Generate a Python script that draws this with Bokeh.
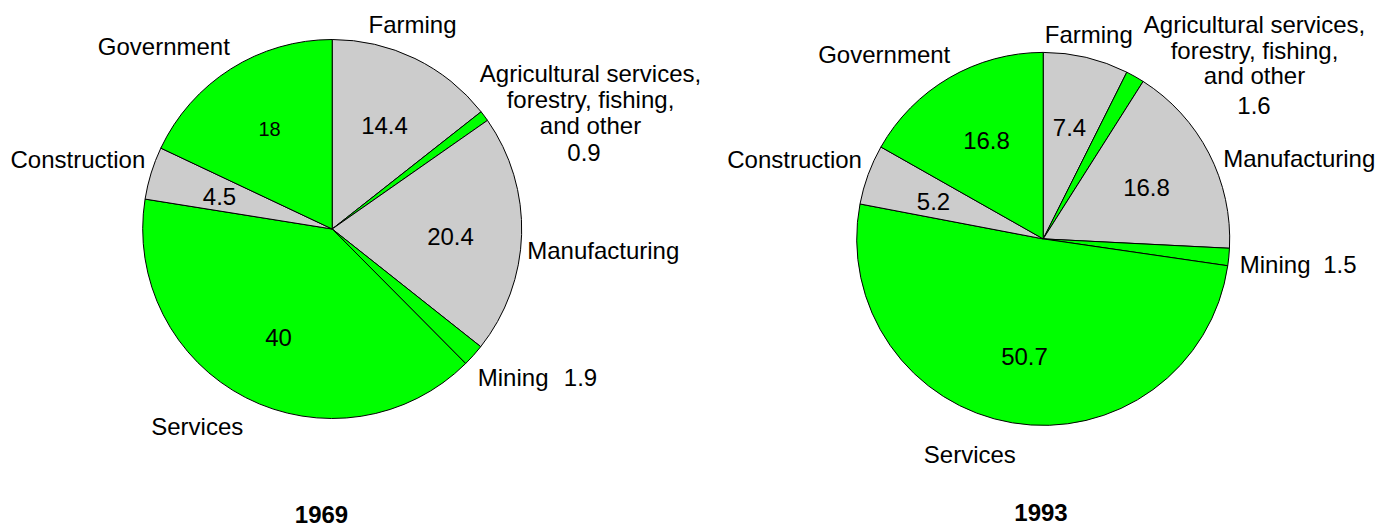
import numpy as np
from bokeh.plotting import figure
from bokeh.models import ColumnDataSource, Range1d
from bokeh.core.properties import value
from bokeh.embed import file_html
from bokeh.resources import INLINE

# ---------------- data ----------------
categories = [
    "Farming",
    "Agricultural services,\nforestry, fishing,\nand other",
    "Manufacturing",
    "Mining",
    "Services",
    "Construction",
    "Government",
]
years = ["1969", "1993"]
values_1969 = [14.4, 0.9, 20.4, 1.9, 40, 4.5, 18]
values_1993 = [7.4, 1.6, 16.8, 1.5, 50.7, 5.2, 16.8]
colors = ["#cccccc", "#00ff00", "#cccccc", "#00ff00", "#00ff00", "#cccccc", "#00ff00"]

# ---------------- layout (page pixels) ----------------
W, H = 1377, 527
FONT = value("Liberation Sans")
TEXT_DY = -8  # baseline correction for the svg text rendering


def px(x):
    return x


def py(y):
    return H - y


def ty(y):
    return H - (y + TEXT_DY)


pies = [
    dict(
        values=values_1969, cx=331.7, cy=228.5, r=189.5,
        title=(321, 522),
        line_gap=26,
        names=[(368, 32.3, "left"), (590, 81, "center"), (526.7, 257.7, "left"),
               (477.3, 385, "left"), (150.7, 434.3, "left"), (10, 166.5, "left"),
               (97.3, 54, "left")],
        vals=[(384, 132.7, "center", 24), (583.5, 160, "center", 24), (450, 244, "center", 24),
              (596.7, 385, "right", 24), (278, 345, "center", 24), (219, 204, "center", 24),
              (269, 136.7, "center", 20)],
    ),
    dict(
        values=values_1993, cx=1042.7, cy=238.4, r=186.5,
        title=(1040.5, 520),
        line_gap=25.5,
        names=[(1044.3, 41.7, "left"), (1254, 32, "center"), (1222.7, 165.7, "left"),
               (1239.3, 272.3, "left"), (923.3, 461.7, "left"), (726.7, 166.7, "left"),
               (817.7, 61.7, "left")],
        vals=[(1069, 135, "center", 24), (1253.5, 113.3, "center", 24), (1146, 195, "center", 24),
              (1356, 272.3, "right", 24), (1024, 364.3, "center", 24), (933, 209, "center", 24),
              (986, 147.7, "center", 24)],
    ),
]

p = figure(width=W, height=H, x_range=Range1d(0, W), y_range=Range1d(0, H),
           x_axis_type=None, y_axis_type=None, output_backend="svg",
           toolbar_location=None, min_border=0)
p.grid.visible = False
p.outline_line_color = None
p.background_fill_color = "white"
p.border_fill_color = "white"

for year, pie in zip(years, pies):
    vals = np.array(pie["values"], dtype=float)
    frac = np.cumsum(vals) / vals.sum()
    ends = np.pi / 2 - 2 * np.pi * frac
    starts = np.concatenate([[np.pi / 2], ends[:-1]])
    n = len(vals)
    src = ColumnDataSource(dict(
        x=[px(pie["cx"])] * n, y=[py(pie["cy"])] * n,
        start=starts, end=ends, color=colors,
    ))
    p.wedge(x="x", y="y", radius=pie["r"], start_angle="start", end_angle="end",
            direction="clock", fill_color="color", line_color="black", line_width=1,
            source=src)

    # category names
    for cat, (lx, ly, al) in zip(categories, pie["names"]):
        for k, line in enumerate(cat.split("\n")):
            p.text(x=[px(lx)], y=[ty(ly + k * pie["line_gap"])], text=[line],
                   text_align=al, text_baseline="alphabetic", text_font=FONT,
                   text_font_size="24px", text_color="black")

    # values
    for v, (vx, vy, al, fs) in zip(pie["values"], pie["vals"]):
        p.text(x=[px(vx)], y=[ty(vy)], text=[f"{v:g}"],
               text_align=al, text_baseline="alphabetic", text_font=FONT,
               text_font_size=f"{fs}px", text_color="black")

    tx, tyy = pie["title"]
    p.text(x=[px(tx)], y=[ty(tyy)], text=[year], text_align="center",
           text_baseline="alphabetic", text_font=FONT, text_font_size="24px",
           text_font_style="bold", text_color="black")

open("out.html", "w").write(file_html(p, INLINE))
